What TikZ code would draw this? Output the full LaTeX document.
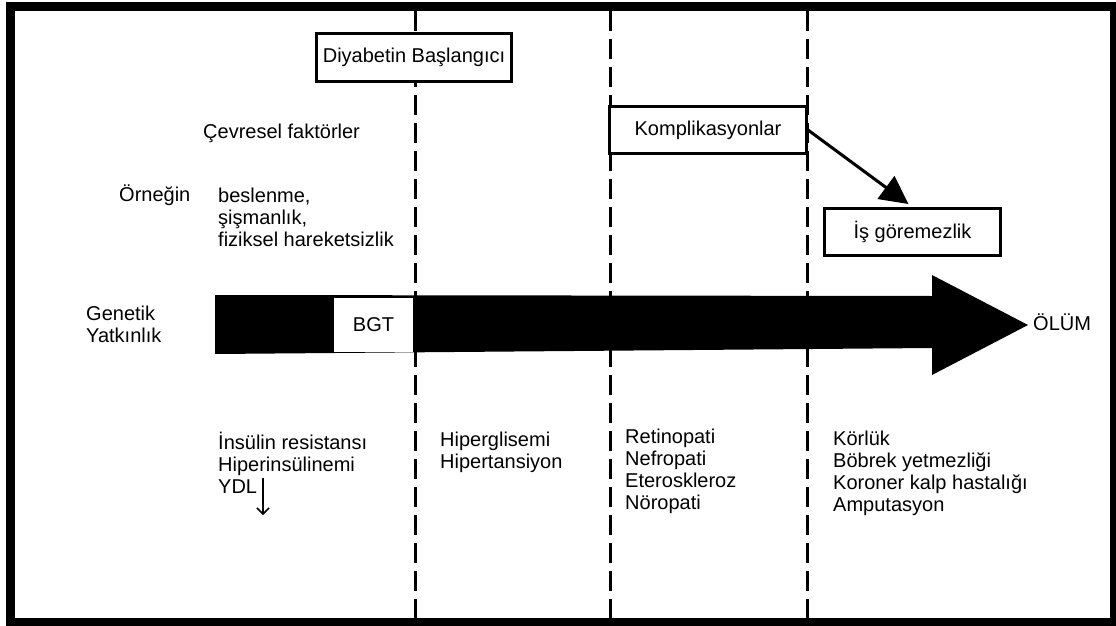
\documentclass[tikz,border=0pt]{standalone}
\usepackage{fontspec}
\setmainfont{Liberation Sans}
\usetikzlibrary{arrows.meta}
\tikzstyle{plain} = [inner sep=0pt, anchor=west, align=left]
\tikzstyle{stage} = [draw, line width=3pt, fill=white, inner sep=0pt,
    minimum height=47pt]
\tikzstyle{phase} = [line width=3pt, dash pattern=on 20pt off 8pt]

\begin{document}
\begin{tikzpicture}[x=1pt, y=-1pt, >=latex, font=\fontsize{20}{22}\selectfont]
	  \useasboundingbox (0,0) rectangle (1116,626);
	  % frame
	  \fill (6,2) rectangle (1116,626);
	  \fill[white] (15,11) rectangle (1110,618);
	  \foreach \x in {415,610,807}
	    \draw [phase] (\x,11) -- (\x,618);
	  % time arrow
	  \fill (215,295) -- (932,296) -- (932,275) -- (1028,325) -- (932,375)
	    -- (932,348) -- (215,354) -- cycle;
	  \node [fill=white, inner sep=0pt, minimum width=79pt, minimum height=54pt]
	    (bgt) at (373.5,325) {BGT};
	  \node [plain] (olum) at (1033,322) {ÖLÜM};
	  \node [plain] (genetik) at (86,324) {Genetik\\Yatkınlık};
	  % boxes
	  \node [stage, minimum width=195pt] (baslangic) at (414,57.5) {Diyabetin Başlangıcı};
	  \node [stage, minimum width=197pt] (kompl) at (708,130) {Komplikasyonlar};
	  \node [stage, minimum width=176pt] (isgor) at (912.5,232) {İş göremezlik};
	  \draw [line width=3pt, -{Triangle[length=28pt,width=28pt]}, shorten >=5pt]
	    (kompl.east) -- (isgor.north);
	  % upper texts
	  \node [plain] (cevre) at (203,133) {Çevresel faktörler};
	  \node [plain] (ornek) at (119,195) {Örneğin};
	  \node [plain] (etken) at (218,217.5) {beslenme,\\şişmanlık,\\fiziksel hareketsizlik};
	  % lower texts
	  \node [plain] (insulin) at (218,463) {İnsülin resistansı\\Hiperinsülinemi\\YDL};
	  \coordinate (ydlust) at (263,478);
	  \coordinate (ydlalt) at (263,515);
	  \draw [line width=1.5pt, -{Straight Barb[length=6pt,width=12pt]}] (ydlust) -- (ydlalt);
	  \node [plain] (hiper) at (440,452) {Hiperglisemi\\Hipertansiyon};
	  \node [plain] (retino) at (625,471) {Retinopati\\Nefropati\\Eteroskleroz\\Nöropati};
	  \node [plain] (korluk) at (833,473) {Körlük\\Böbrek yetmezliği\\Koroner kalp hastalığı\\Amputasyon};
	\end{tikzpicture}
\end{document}
